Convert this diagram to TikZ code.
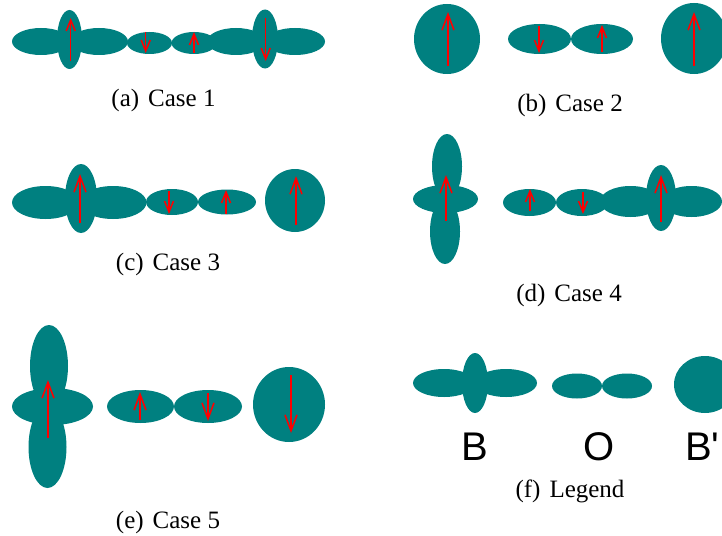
\documentclass[tikz,border=0pt]{standalone}
\usepackage{fontspec}
\setmainfont{Liberation Serif}
\newfontfamily\lsans{Liberation Sans}
\usetikzlibrary{arrows.meta}
\definecolor{tl}{RGB}{0,128,128}
\begin{document}
\begin{tikzpicture}[x=1pt,y=-1pt,
  arr/.style={red,line width=1.5pt,-{Straight Barb[length=11pt,width=9pt]}},
  bigarr/.style={red,line width=1.5pt,-{Straight Barb[length=16pt,width=12pt]}},
  capt/.style={font=\fontsize{25}{30}\selectfont,anchor=base,inner sep=0pt},
  lbl/.style={font=\lsans\fontsize{40}{48}\selectfont,anchor=base,inner sep=0pt}]
\useasboundingbox (0,0) rectangle (722,535);
% ---------- (a) ----------
\fill[tl] (41,41.5) ellipse [x radius=29,y radius=13.5];
\fill[tl] (99,41.5) ellipse [x radius=29,y radius=13.5];
\fill[tl] (69.5,39.5) ellipse [x radius=12.5,y radius=29.5];
\fill[tl] (149.5,43) ellipse [x radius=22.5,y radius=11];
\fill[tl] (194,43) ellipse [x radius=22.5,y radius=11];
\fill[tl] (236,41.5) ellipse [x radius=29,y radius=13.5];
\fill[tl] (295,41.5) ellipse [x radius=30,y radius=13.5];
\fill[tl] (265,39) ellipse [x radius=13,y radius=29.5];
\draw[arr] (70.7,61) -- (70.7,18);
\draw[arr] (145.7,32) -- (145.7,53);
\draw[arr] (194,53) -- (194,32);
\draw[arr] (265.7,18) -- (265.7,61);
\node[capt] (capa) at (163.5,106) {(a)\hspace{9pt}Case 1};
% ---------- (b) ----------
\fill[tl] (447,39) ellipse [x radius=33,y radius=35];
\draw[bigarr] (448,66) -- (448,12);
\fill[tl] (539.5,39) ellipse [x radius=31.5,y radius=15];
\fill[tl] (602,39) ellipse [x radius=31,y radius=15];
\draw[arr] (539,26) -- (539,53);
\draw[arr] (602,52) -- (602,25);
\fill[tl] (694,38.5) ellipse [x radius=33,y radius=35.5];
\draw[bigarr] (694,66) -- (694,12);
\node[capt] (capb) at (570,111) {(b)\hspace{9pt}Case 2};
% ---------- (c) ----------
\fill[tl] (45.5,202.5) ellipse [x radius=33.5,y radius=16.5];
\fill[tl] (113,202.5) ellipse [x radius=33.5,y radius=16.5];
\fill[tl] (81,198.5) ellipse [x radius=16,y radius=34.5];
\draw[bigarr] (80,223) -- (80,174);
\fill[tl] (172,202) ellipse [x radius=26,y radius=13];
\fill[tl] (227,202) ellipse [x radius=29,y radius=12.5];
\draw[arr] (169,191) -- (169,214);
\draw[arr] (226,214) -- (226,190);
\fill[tl] (295,200.5) ellipse [x radius=30,y radius=31.5];
\draw[bigarr] (296,225) -- (296,176);
\node[capt] (capc) at (168,270) {(c)\hspace{9pt}Case 3};
% ---------- (d) ----------
\fill[tl] (445.5,199) ellipse [x radius=32.5,y radius=14];
\fill[tl] (447,166.5) ellipse [x radius=15,y radius=32.5];
\fill[tl] (445,231.5) ellipse [x radius=15,y radius=32.5];
\draw[bigarr] (446,221) -- (446,175);
\fill[tl] (529.5,202.5) ellipse [x radius=26.5,y radius=13.5];
\fill[tl] (582,202.5) ellipse [x radius=26,y radius=13.5];
\draw[arr] (530,211) -- (530,189);
\draw[arr] (583,192) -- (583,214);
\fill[tl] (630.5,201.5) ellipse [x radius=30.5,y radius=15.5];
\fill[tl] (691.5,201.5) ellipse [x radius=30.5,y radius=15.5];
\fill[tl] (661,198) ellipse [x radius=15,y radius=33];
\draw[bigarr] (661,222) -- (661,175);
\node[capt] (capd) at (569,301) {(d)\hspace{9pt}Case 4};
% ---------- (e) ----------
\fill[tl] (52.5,406.5) ellipse [x radius=40.5,y radius=18.5];
\fill[tl] (49,366) ellipse [x radius=19,y radius=41];
\fill[tl] (47.5,447) ellipse [x radius=19,y radius=41];
\draw[bigarr] (48,438) -- (48,380);
\fill[tl] (140.5,406.5) ellipse [x radius=33.5,y radius=16.5];
\fill[tl] (208,406.5) ellipse [x radius=34,y radius=16.5];
\draw[bigarr] (140,420) -- (140,392);
\draw[bigarr] (208,393) -- (208,421);
\fill[tl] (289,404.5) ellipse [x radius=36,y radius=37.5];
\draw[bigarr] (291,375) -- (291,433);
\node[capt] (cape) at (168,528) {(e)\hspace{9pt}Case 5};
% ---------- (f) ----------
\fill[tl] (444,383) ellipse [x radius=31,y radius=14];
\fill[tl] (506,383) ellipse [x radius=31,y radius=14];
\fill[tl] (475,383) ellipse [x radius=13,y radius=30];
\fill[tl] (577,386) ellipse [x radius=25,y radius=12.5];
\fill[tl] (627,386) ellipse [x radius=25,y radius=12.5];
\fill[tl] (705,384.5) ellipse [x radius=31,y radius=28.5];
\node[lbl] (lb) at (474.5,460) {B};
\node[lbl] (lo) at (599,460) {O};
\node[lbl,anchor=base west] (lbp) at (685,460) {B'};
\node[capt] (capf) at (570,497) {(f)\hspace{9pt}Legend};
\end{tikzpicture}
\end{document}
